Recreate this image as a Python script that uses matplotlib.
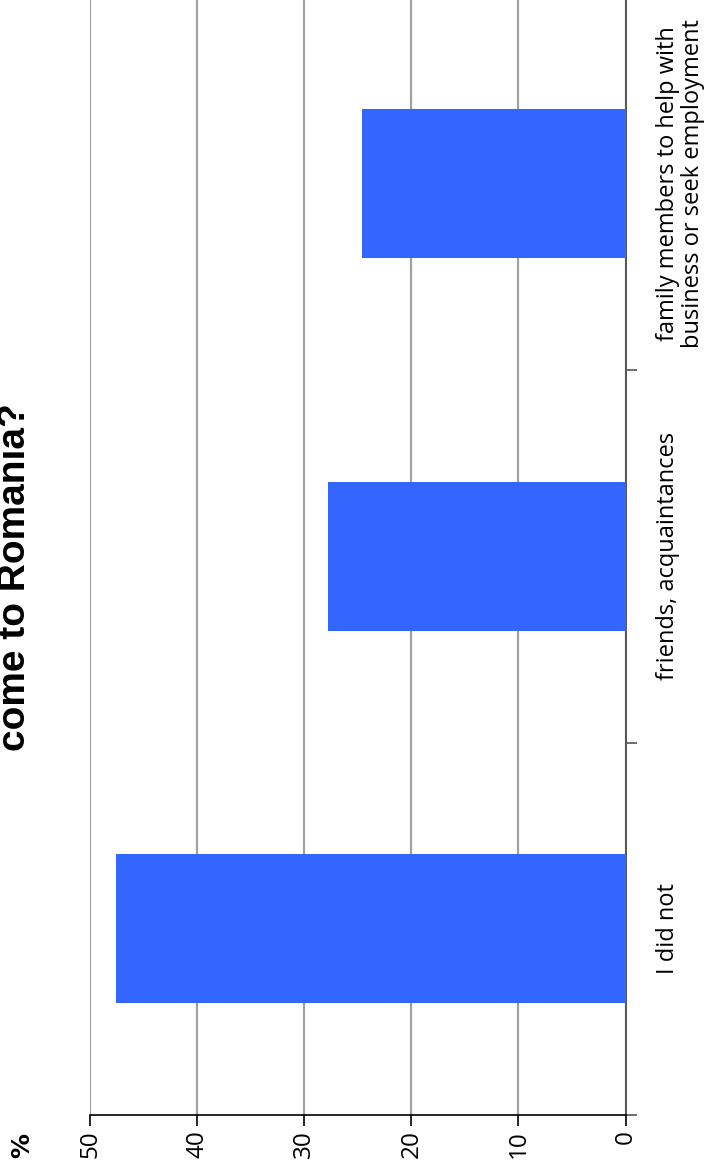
import matplotlib.pyplot as plt
import numpy as np

# data
categories = ["I did not", "friends, acquaintances",
              "family members to help with\nbusiness or seek employment"]
values = [47.6, 27.8, 24.6]
value_ticks = [0, 10, 20, 30, 40, 50]

W, H = 712, 1168
fig = plt.figure(figsize=(W / 100, H / 100), dpi=100)

# axes box in pixels: left 90, right 625.5, bottom 1115, top -2.5
ax = fig.add_axes([90 / W, (H - 1115) / H, 535.5 / W, 1117.5 / H])

pos = np.arange(len(categories))
ax.barh(pos, values, height=0.4, color='#3366ff', zorder=3)

ax.set_xlim(50, 0)
ax.set_ylim(-0.5, len(categories) - 0.5)

ax.set_xticks(value_ticks)
ax.set_xticklabels([str(v) for v in value_ticks], rotation=90,
                   fontsize=17.5, family='Open Sans')
ax.xaxis.grid(True, color='#a0a0a0', linewidth=1.6, zorder=0)
ax.tick_params(axis='x', length=8, width=1.2, pad=3)

ax.yaxis.tick_right()
ax.set_yticks(np.arange(-0.5, len(categories), 1.0))
ax.set_yticklabels([])
ax.set_yticks(pos, minor=True)
ax.set_yticklabels(categories, minor=True, rotation=90, va='center',
                   ha='left', multialignment='center', fontsize=17,
                   family='Open Sans', linespacing=1.08)
ax.tick_params(axis='y', which='major', length=8, width=1.2, color='#555555')
ax.tick_params(axis='y', which='minor', length=0, pad=22)

for s in ['left', 'top']:
    ax.spines[s].set_visible(False)
ax.spines['right'].set_color('#555555')
ax.spines['right'].set_linewidth(1.4)
ax.spines['bottom'].set_linewidth(1.2)

fig.text(22 / W, (H - 1146) / H, '%', rotation=90, ha='center', va='center',
         fontsize=18, fontweight='bold', family='DejaVu Sans')

# title: only its last line shows, cut at the left edge as in the reference
fig.text(33 / W, (H - 577) / H, 'come to Romania?', rotation=90,
         ha='right', va='center', fontsize=28, fontweight='bold',
         family='Liberation Sans')

fig.savefig('out.png', dpi=100)
